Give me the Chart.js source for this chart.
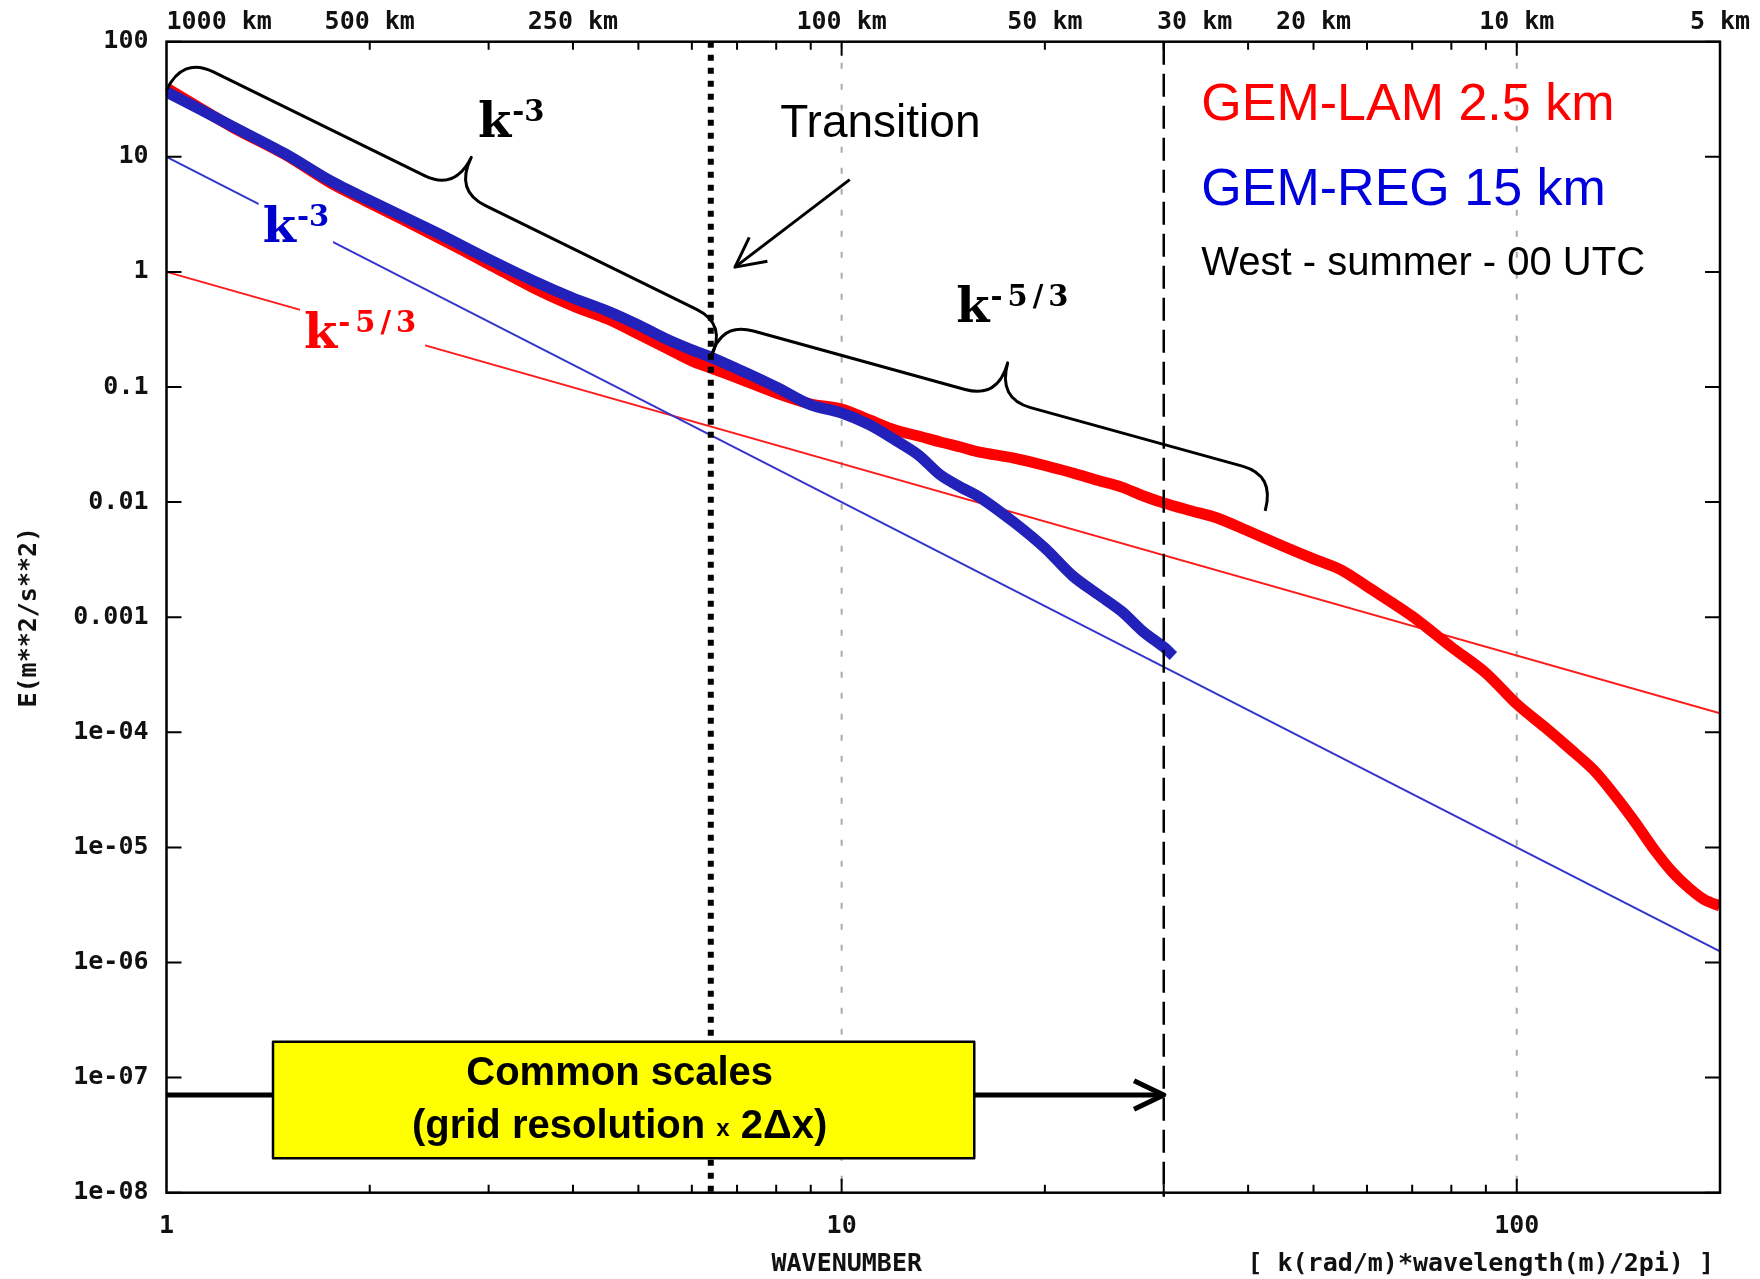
<!DOCTYPE html>
<html>
<head>
<meta charset="utf-8">
<title>Kinetic energy spectra - West summer 00 UTC</title>
<script src="https://cdn.jsdelivr.net/npm/chart.js@4.4.1/dist/chart.umd.min.js"></script>
<style>
  html, body { margin: 0; padding: 0; background: #fff; }
  canvas { display: block; }
</style>
</head>
<body>
<canvas id="spectrum" width="1760" height="1279"></canvas>
<script>
// GEM-LAM 2.5 km spectrum
const kLam = [1, 1.25, 1.5, 1.75, 2, 2.5, 3, 3.5, 4, 4.5, 5, 5.5, 6, 6.4, 7, 8, 9, 10, 11, 12,
              13, 14, 15, 16, 18, 20, 22, 24, 26, 28, 30, 33, 36, 40, 45, 50, 55, 60, 70, 80,
              90, 100, 110, 120, 130, 140, 150, 160, 170, 180, 190, 200];
const eLam = [39.6, 18.2, 10.4, 5.92, 3.97, 2.05, 1.17, 0.724, 0.506, 0.39, 0.289, 0.218, 0.168, 0.146, 0.12, 0.0887, 0.0712, 0.0644, 0.0517, 0.0423,
              0.0375, 0.0333, 0.0301, 0.0272, 0.0241, 0.0208, 0.0179, 0.0154, 0.0135, 0.0113, 0.00982, 0.00838, 0.00728, 0.00561, 0.00416, 0.00321, 0.00257, 0.00185, 0.00102, 5.51e-4,
              3.27e-4, 1.76e-4, 1.11e-4, 7.16e-5, 4.7e-5, 2.79e-5, 1.63e-5, 9.49e-6, 6.11e-6, 4.43e-6, 3.49e-6, 3.1e-6];

// GEM-REG 15 km spectrum
const kReg = [1, 1.25, 1.5, 1.75, 2, 2.5, 3, 3.5, 4, 4.5, 5, 5.5, 6, 6.4, 7, 8, 9, 10, 11, 12,
              13, 14, 15, 16, 18, 20, 22, 24, 26, 28, 30, 31];
const eReg = [36.6, 18.5, 10.6, 6.17, 4.17, 2.22, 1.29, 0.834, 0.593, 0.457, 0.346, 0.261, 0.21, 0.182, 0.144, 0.1, 0.0698, 0.0594, 0.0468, 0.0346,
              0.0256, 0.0172, 0.0135, 0.01106, 0.00668, 0.00399, 0.00228, 0.00157, 0.00112, 7.43e-4, 5.5e-4, 4.6e-4];

// reference slopes
const kSlope = [1, 200];
const eSlope3 = [10, 1.25e-6];   // k^-3
const eSlope53 = [1, 1.46e-4];   // k^-5/3

// axes
const xTickValues = [1, 2, 3, 4, 5, 6, 7, 8, 9, 10, 20, 30, 40, 50, 60, 70, 80, 90, 100];
const xTickLabels = { 1: '1', 10: '10', 100: '100' };
const yTickValues = [100, 10, 1, 0.1, 0.01, 0.001, 1e-4, 1e-5, 1e-6, 1e-7, 1e-8];
const yTickLabels = ['100', '10', '1', '0.1', '0.01', '0.001', '1e-04', '1e-05', '1e-06', '1e-07', '1e-08'];
const topKm = [1000, 500, 250, 100, 50, 30, 20, 10, 5];

const transitionK = 6.4;
const cutoffK = 30;

const monoFont = 'bold 25px "DejaVu Sans Mono"';

const pts = (ks, es) => ks.map((k, i) => ({ x: k, y: es[i] }));

function at(chart, k, e) {
    return { x: chart.scales.x.getPixelForValue(k), y: chart.scales.y.getPixelForValue(e) };
}

function arrow(ctx, from, to, head, spread) {
    ctx.beginPath();
    ctx.moveTo(from.x, from.y);
    ctx.lineTo(to.x, to.y);
    ctx.stroke();
    const ang = Math.atan2(from.y - to.y, from.x - to.x);
    ctx.beginPath();
    ctx.moveTo(to.x + head * Math.cos(ang + spread), to.y + head * Math.sin(ang + spread));
    ctx.lineTo(to.x, to.y);
    ctx.lineTo(to.x + head * Math.cos(ang - spread), to.y + head * Math.sin(ang - spread));
    ctx.stroke();
}

// curly brace between a and b, bulging to the upper side
function brace(ctx, a, b, w, h) {
    const len = Math.hypot(b.x - a.x, b.y - a.y);
    const ux = (b.x - a.x) / len, uy = (b.y - a.y) / len;
    const nx = uy, ny = -ux;
    const p = (t, o) => [a.x + ux * t + nx * o, a.y + uy * t + ny * o];
    const m = len / 2;
    ctx.beginPath();
    ctx.moveTo(...p(0, 0));
    ctx.quadraticCurveTo(...p(0, w), ...p(h, w));
    ctx.lineTo(...p(m - h, w));
    ctx.quadraticCurveTo(...p(m, w), ...p(m, 2 * w));
    ctx.quadraticCurveTo(...p(m, w), ...p(m + h, w));
    ctx.lineTo(...p(len - h, w));
    ctx.quadraticCurveTo(...p(len, w), ...p(len, 0));
    ctx.stroke();
}

function powerLabel(ctx, p, sup, color, boxed) {
    ctx.textAlign = 'left';
    ctx.textBaseline = 'alphabetic';
    ctx.font = 'bold 48px "DejaVu Serif"';
    const wk = ctx.measureText('k').width;
    ctx.font = 'bold 29px "DejaVu Serif"';
    ctx.letterSpacing = sup.length > 2 ? '5px' : '0px';
    const ws = ctx.measureText(sup).width;
    if (boxed) {
        ctx.fillStyle = '#fff';
        ctx.fillRect(p.x - 4, p.y - 42, wk + ws + 9, 47);
    }
    ctx.fillStyle = color;
    ctx.fillText(sup, p.x + wk + 1, p.y - 16);
    ctx.letterSpacing = '0px';
    ctx.font = 'bold 48px "DejaVu Serif"';
    ctx.fillText('k', p.x, p.y);
}

const gridPlugin = {
    id: 'gridLines',
    beforeDatasetsDraw(chart) {
        const { ctx, chartArea: a, scales: { x } } = chart;
        ctx.save();
        ctx.strokeStyle = '#aaaaaa';
        ctx.lineWidth = 2;
        ctx.setLineDash([6, 15]);
        [10, 100].forEach(v => {
            const px = x.getPixelForValue(v);
            ctx.beginPath();
            ctx.moveTo(px, a.top);
            ctx.lineTo(px, a.bottom);
            ctx.stroke();
        });
        ctx.restore();
    }
};

const annotations = {
    id: 'annotations',
    afterDatasetsDraw(chart) {
        const { ctx, chartArea: a, scales: { x, y } } = chart;
        ctx.save();

        // labels on the reference slopes (white box cuts the thin lines)
        powerLabel(ctx, at(chart, 1.388, 1.83), '-3', '#0000cc', true);
        powerLabel(ctx, at(chart, 1.598, 0.217), '-5/3', '#ff0000', true);

        // frame
        ctx.strokeStyle = '#000';
        ctx.lineWidth = 2.5;
        ctx.strokeRect(a.left, a.top, a.right - a.left, a.bottom - a.top);

        // inward tick marks, mirrored on both sides
        ctx.lineWidth = 2;
        xTickValues.forEach(v => {
            if (v === 1) return;
            const px = x.getPixelForValue(v);
            const len = (v === 10 || v === 100) ? 14 : 8;
            ctx.beginPath();
            ctx.moveTo(px, a.bottom); ctx.lineTo(px, a.bottom - len);
            ctx.moveTo(px, a.top); ctx.lineTo(px, a.top + len);
            ctx.stroke();
        });
        yTickValues.forEach(v => {
            const py = y.getPixelForValue(v);
            ctx.beginPath();
            ctx.moveTo(a.left, py); ctx.lineTo(a.left + 15, py);
            ctx.moveTo(a.right, py); ctx.lineTo(a.right - 15, py);
            ctx.stroke();
        });

        // wavelength labels along the top
        ctx.fillStyle = '#111';
        ctx.font = monoFont;
        ctx.textBaseline = 'middle';
        topKm.forEach((km, i) => {
            ctx.textAlign = i === 0 ? 'left' : 'center';
            ctx.fillText(km + ' km', x.getPixelForValue(1000 / km), a.top - 19);
        });

        // axis titles
        ctx.textAlign = 'left';
        ctx.fillText('WAVENUMBER', a.left + 605, a.bottom + 72);
        ctx.textAlign = 'right';
        ctx.fillText('[ k(rad/m)*wavelength(m)/2pi) ]', a.right - 6, a.bottom + 72);
        ctx.save();
        ctx.translate(29, (a.top + a.bottom) / 2);
        ctx.rotate(-Math.PI / 2);
        ctx.textAlign = 'center';
        ctx.fillText('E(m**2/s**2)', 0, 0);
        ctx.restore();

        // transition (dotted) and 2 dx cutoff (dashed)
        ctx.strokeStyle = '#000';
        const xt = x.getPixelForValue(transitionK);
        ctx.lineWidth = 6;
        ctx.setLineDash([6, 7]);
        ctx.beginPath(); ctx.moveTo(xt, a.top); ctx.lineTo(xt, a.bottom + 3); ctx.stroke();
        const xc = x.getPixelForValue(cutoffK);
        ctx.lineWidth = 2.5;
        ctx.setLineDash([23, 9]);
        ctx.beginPath(); ctx.moveTo(xc, a.top); ctx.lineTo(xc, a.bottom + 4); ctx.stroke();
        ctx.setLineDash([]);

        // braces over the two ranges
        ctx.lineWidth = 3;
        ctx.lineJoin = 'round';
        brace(ctx, at(chart, 1, 38), at(chart, transitionK, 0.18), 37, 34);
        brace(ctx, at(chart, transitionK, 0.18), at(chart, 42.4, 0.0084), 37, 34);
        powerLabel(ctx, at(chart, 2.894, 14.96), '-3', '#000', false);
        powerLabel(ctx, at(chart, 14.78, 0.367), '-5/3', '#000', false);

        // transition arrow
        ctx.strokeStyle = '#000';
        ctx.lineWidth = 3;
        arrow(ctx, at(chart, 10.28, 6.34), at(chart, 6.95, 1.10), 33, 0.47);
        ctx.fillStyle = '#000';
        ctx.font = '46px "Liberation Sans"';
        ctx.textAlign = 'left';
        ctx.textBaseline = 'alphabetic';
        const tp = at(chart, 8.11, 14.96);
        ctx.fillText('Transition', tp.x, tp.y);

        // legend text
        const l1 = at(chart, 34.1, 20.9), l2 = at(chart, 34.1, 3.81), l3 = at(chart, 34.1, 0.94);
        ctx.font = '52px "Liberation Sans"';
        ctx.fillStyle = '#ff0000';
        ctx.fillText('GEM-LAM 2.5 km', l1.x, l1.y);
        ctx.fillStyle = '#0000dd';
        ctx.fillText('GEM-REG 15 km', l2.x, l2.y);
        ctx.font = '40px "Liberation Sans"';
        ctx.fillStyle = '#000';
        ctx.fillText('West - summer - 00 UTC', l3.x, l3.y);

        // common scales arrow and box
        ctx.lineWidth = 5;
        arrow(ctx, at(chart, 1, 7.06e-8), at(chart, cutoffK, 7.06e-8), 33, 0.45);
        const b0 = at(chart, 1.438, 2.05e-7), b1 = at(chart, 15.72, 1.99e-8);
        ctx.fillStyle = '#ffff00';
        ctx.fillRect(b0.x, b0.y, b1.x - b0.x, b1.y - b0.y);
        ctx.lineWidth = 2.5;
        ctx.strokeRect(b0.x, b0.y, b1.x - b0.x, b1.y - b0.y);
        const cx = (b0.x + b1.x) / 2 - 4;
        ctx.fillStyle = '#000';
        ctx.textAlign = 'center';
        ctx.font = 'bold 40px "Liberation Sans"';
        ctx.fillText('Common scales', cx, b0.y + 43);
        const partA = '(grid resolution ', partC = ' 2\u0394x)';
        const wa = ctx.measureText(partA).width, wc = ctx.measureText(partC).width;
        ctx.font = 'bold 24px "Liberation Sans"';
        const wb = ctx.measureText('x').width;
        let sx = cx - (wa + wb + wc) / 2;
        ctx.textAlign = 'left';
        ctx.font = 'bold 40px "Liberation Sans"';
        ctx.fillText(partA, sx, b0.y + 96);
        ctx.font = 'bold 24px "Liberation Sans"';
        ctx.fillText('x', sx + wa, b0.y + 94);
        ctx.font = 'bold 40px "Liberation Sans"';
        ctx.fillText(partC, sx + wa + wb, b0.y + 96);

        ctx.restore();
    }
};

const data = {
    datasets: [
        {
            label: 'k^-5/3',
            data: pts(kSlope, eSlope53),
            borderColor: '#ff1a1a',
            borderWidth: 2,
            pointRadius: 0,
            order: 4
        },
        {
            label: 'k^-3',
            data: pts(kSlope, eSlope3),
            borderColor: '#3535cc',
            borderWidth: 2,
            pointRadius: 0,
            order: 3
        },
        {
            label: 'GEM-LAM 2.5 km',
            data: pts(kLam, eLam),
            borderColor: '#ff0000',
            borderWidth: 11,
            borderJoinStyle: 'round',
            pointRadius: 0,
            tension: 0.3,
            order: 2
        },
        {
            label: 'GEM-REG 15 km',
            data: pts(kReg, eReg),
            borderColor: '#2222bb',
            borderWidth: 11,
            borderJoinStyle: 'round',
            pointRadius: 0,
            tension: 0.3,
            order: 1
        }
    ]
};

const config = {
    type: 'line',
    data: data,
    options: {
        responsive: false,
        animation: false,
        layout: { padding: { top: 41.7, right: 40, left: 0, bottom: 0 } },
        plugins: {
            legend: { display: false },
            tooltip: { enabled: false }
        },
        scales: {
            x: {
                type: 'logarithmic',
                min: 1,
                max: 200,
                grid: { display: false, drawTicks: false },
                border: { display: false },
                afterBuildTicks: s => { s.ticks = xTickValues.map(v => ({ value: v })); },
                afterFit: s => { s.height = 86.3; },
                ticks: {
                    autoSkip: false,
                    maxRotation: 0,
                    padding: 19,
                    color: '#111',
                    font: { family: 'DejaVu Sans Mono', size: 25, weight: 'bold' },
                    callback: v => xTickLabels[v] || ''
                }
            },
            y: {
                type: 'logarithmic',
                min: 1e-8,
                max: 100,
                grid: { display: false, drawTicks: false },
                border: { display: false },
                afterBuildTicks: s => { s.ticks = yTickValues.map(v => ({ value: v })); },
                afterFit: s => { s.width = 166.5; },
                ticks: {
                    autoSkip: false,
                    padding: 18,
                    color: '#111',
                    font: { family: 'DejaVu Sans Mono', size: 25, weight: 'bold' },
                    callback: v => yTickLabels[yTickValues.indexOf(v)]
                }
            }
        }
    },
    plugins: [gridPlugin, annotations]
};

const spectrumChart = new Chart(document.getElementById('spectrum'), config);
</script>
</body>
</html>
